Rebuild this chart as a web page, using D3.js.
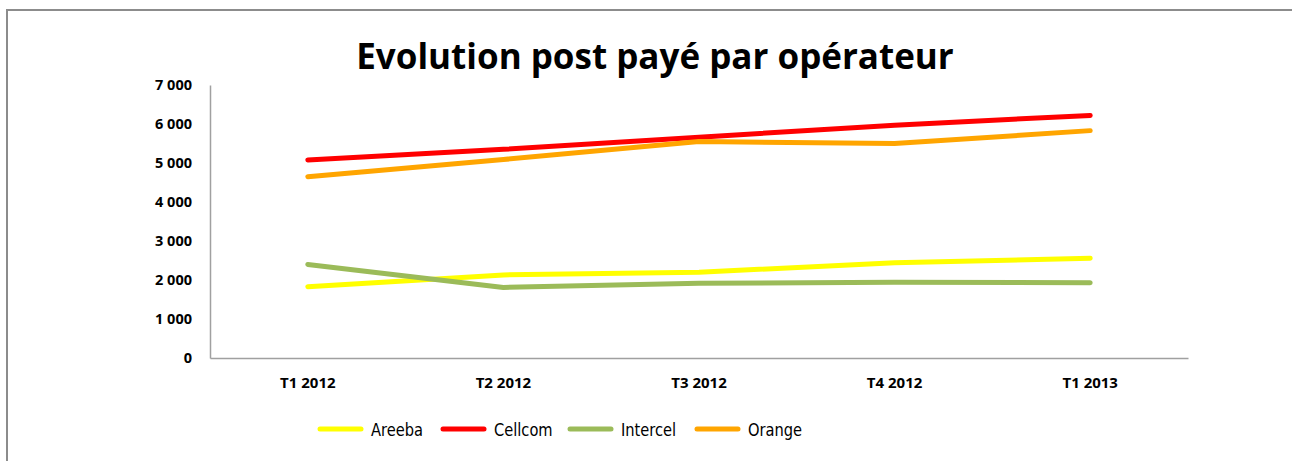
<!DOCTYPE html>
<html>
<head>
<meta charset="utf-8">
<script src="https://cdn.jsdelivr.net/npm/d3@7"></script>
<style>
  body { margin: 0; background: #fff; }
  svg { display: block; }
</style>
</head>
<body>
<div id="chart"></div>
<script>
const quarters = ["T1 2012", "T2 2012", "T3 2012", "T4 2012", "T1 2013"];
const areeba = [1830, 2130, 2200, 2440, 2560];
const cellcom = [5080, 5350, 5660, 5970, 6220];
const intercel = [2400, 1810, 1915, 1940, 1930];
const orange = [4650, 5090, 5550, 5500, 5830];
const seriesNames = ["Areeba", "Cellcom", "Intercel", "Orange"];
const seriesColors = ["#ffff00", "#ff0000", "#9bbb59", "#ffa500"];
const yTicks = [0, 1000, 2000, 3000, 4000, 5000, 6000, 7000];

const w = 1292;
const h = 461;
const plotLeft = 210, plotRight = 1188, plotTop = 85, plotBottom = 358;

const series = [areeba, cellcom, intercel, orange];

const svg = d3.select("#chart")
  .append("svg")
  .attr("width", w)
  .attr("height", h);

// outer frame
svg.append("rect")
  .attr("x", 7)
  .attr("y", 10)
  .attr("width", 1290)
  .attr("height", 470)
  .attr("fill", "#fff")
  .attr("stroke", "#8c8c8c")
  .attr("stroke-width", 2);

const xScale = d3.scaleBand()
  .domain(quarters)
  .range([plotLeft, plotRight]);

const yScale = d3.scaleLinear()
  .domain([0, 7000])
  .range([plotBottom, plotTop]);

const fmt = d => d3.format(",")(d).replace(",", " ");

// y axis
const yAxis = d3.axisLeft(yScale)
  .tickValues(yTicks)
  .tickFormat(fmt)
  .tickSize(0)
  .tickPadding(18);

const gy = svg.append("g")
  .attr("transform", "translate(" + plotLeft + ",0)")
  .call(yAxis);
gy.select(".domain").attr("stroke", "#a0a0a0").attr("stroke-width", 1.5);
gy.selectAll("text")
  .attr("font-family", "'Open Sans', sans-serif")
  .attr("font-weight", "bold")
  .attr("font-size", 14.5)
  .attr("fill", "#000");

// x axis
const xAxis = d3.axisBottom(xScale).tickSize(0).tickPadding(19);
const gx = svg.append("g")
  .attr("transform", "translate(0," + plotBottom + ")")
  .call(xAxis);
gx.select(".domain").attr("stroke", "#a0a0a0").attr("stroke-width", 1.5);
gx.selectAll("text")
  .attr("font-family", "'Open Sans', sans-serif")
  .attr("font-weight", "bold")
  .attr("font-size", 15)
  .attr("fill", "#000");

// lines
const line = d3.line()
  .x((d, i) => xScale(quarters[i]) + xScale.bandwidth() / 2)
  .y(d => yScale(d));

svg.selectAll(".series")
  .data(series)
  .enter()
  .append("path")
  .attr("class", "series")
  .attr("d", d => line(d))
  .attr("fill", "none")
  .attr("stroke", (d, i) => seriesColors[i])
  .attr("stroke-width", 5)
  .attr("stroke-linecap", "round")
  .attr("stroke-linejoin", "round");

// title
svg.append("text")
  .attr("x", 655)
  .attr("y", 69)
  .attr("text-anchor", "middle")
  .attr("font-family", "'Open Sans', sans-serif")
  .attr("font-weight", "bold")
  .attr("font-size", 35)
  .attr("fill", "#000")
  .text("Evolution post payé par opérateur");

// legend
const legendX = [320, 443, 570, 697];
const legend = svg.append("g")
  .selectAll("g")
  .data(seriesNames)
  .enter()
  .append("g")
  .attr("transform", (d, i) => "translate(" + legendX[i] + ",429)");

legend.append("line")
  .attr("x1", 0)
  .attr("x2", 41)
  .attr("stroke", (d, i) => seriesColors[i])
  .attr("stroke-width", 5)
  .attr("stroke-linecap", "round");

legend.append("text")
  .attr("transform", "translate(51,7) scale(0.88,1)")
  .attr("font-family", "'DejaVu Sans Condensed', 'DejaVu Sans', sans-serif")
  .attr("font-stretch", "condensed")
  .attr("font-size", 18.5)
  .attr("fill", "#000")
  .text(d => d);
</script>
</body>
</html>
